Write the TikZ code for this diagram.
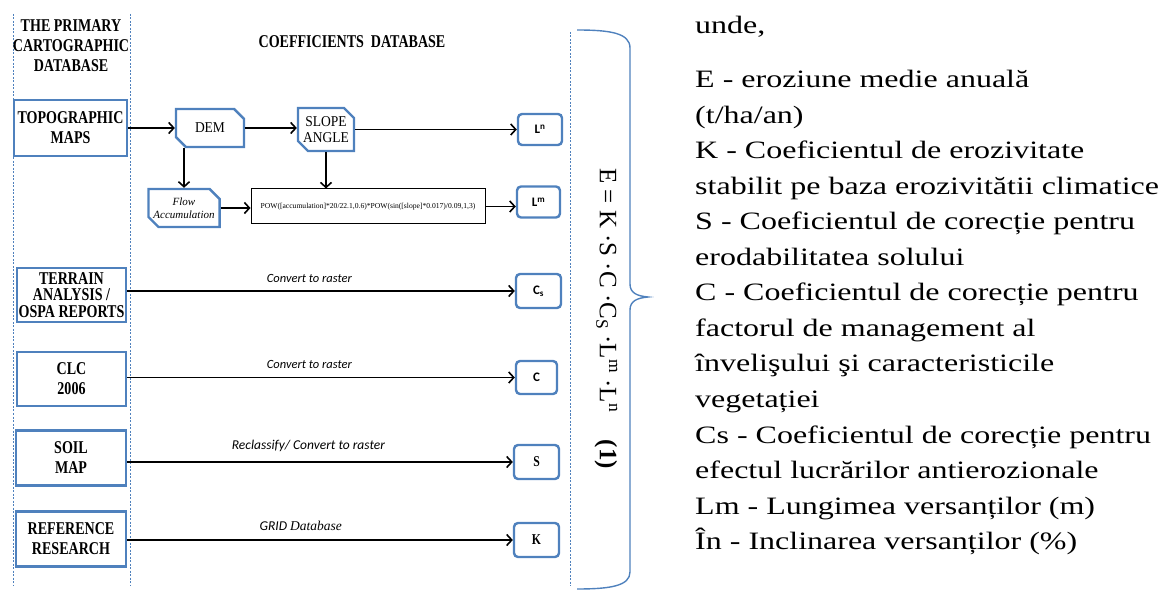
\documentclass[tikz,border=0pt]{standalone}
\usepackage{fontspec}
\setmainfont{Liberation Serif}
\newfontfamily\narrowserif[FakeStretch=0.78]{Liberation Serif}
\newfontfamily\boxserif[FakeStretch=0.9]{Liberation Serif}
\newfontfamily\wideserif[FakeStretch=1.28]{Liberation Serif}
\newfontfamily\calibri{Carlito}
\usetikzlibrary{arrows.meta,shapes.misc}
\definecolor{boxblue}{RGB}{79,129,189}

\tikzset{
  srcbox/.style={draw=boxblue, line width=2.4pt, align=center, inner sep=0pt,
    font=\narrowserif\bfseries\fontsize{18}{20}\selectfont},
  snipbox/.style={chamfered rectangle, chamfered rectangle corners={north east,south west},
    chamfered rectangle xsep=5pt, chamfered rectangle ysep=5pt,
    draw=boxblue, line width=2.4pt, align=center, inner sep=0pt},
  outbox/.style={draw=boxblue, line width=2.4pt, rounded corners=4pt, inner sep=0pt},
  flowarrow/.style={line width=1.7pt, -{Straight Barb[length=5pt,width=11pt,line width=1.6pt]}},
  dashline/.style={boxblue, line width=0.9pt, dash pattern=on 2pt off 1.5pt},
  arrowlabel/.style={font=\calibri\itshape\fontsize{12.5}{14}\selectfont, inner sep=0pt},
  heading/.style={font=\narrowserif\bfseries\fontsize{18}{20}\selectfont, align=center, inner sep=0pt},
  legend/.style={anchor=base west, inner sep=0pt, font=\wideserif\fontsize{25}{30}\selectfont},
}

\begin{document}
\begin{tikzpicture}[x=1pt,y=-1pt]
\useasboundingbox (0,0) rectangle (1162,593);

% column separators
\draw[dashline] (13,14) -- (13,586);
\draw[dashline] (130,14) -- (130,586);
\draw[dashline] (570,32) -- (570,586);

% headings
\node[heading] (hprim) at (71,46) {THE PRIMARY\\CARTOGRAPHIC\\DATABASE};
\node[heading] (hcoef) at (352,42) {COEFFICIENTS\ \ DATABASE};

% source data
\node[srcbox, minimum width=113pt, minimum height=56pt] (topo) at (70.5,128) {TOPOGRAPHIC\\MAPS};
\node[srcbox, minimum width=109pt, minimum height=54pt, font=\narrowserif\bfseries\fontsize{18}{16.5}\selectfont] (terrain) at (71.5,295) {TERRAIN\\ANALYSIS /\\OSPA REPORTS};
\node[srcbox, minimum width=109pt, minimum height=54pt] (clc) at (71.5,379) {CLC\\2006};
\node[srcbox, minimum width=110pt, minimum height=55pt] (soil) at (71,458) {SOIL\\MAP};
\node[srcbox, minimum width=110pt, minimum height=55pt] (ref) at (71,539) {REFERENCE\\RESEARCH};

% intermediate layers
\node[snipbox, minimum width=68pt, minimum height=38pt, font=\boxserif\fontsize{15}{16}\selectfont] (dem) at (210,128) {DEM};
\node[snipbox, minimum width=56pt, minimum height=43pt, font=\boxserif\fontsize{15}{16}\selectfont] (slope) at (326,129.5) {SLOPE\\ANGLE};
\node[snipbox, minimum width=66pt, minimum height=38pt, font=\itshape\fontsize{11}{13}\selectfont] (flow) at (184,208) {Flow\\Accumulation};
\node[draw=black, line width=1pt, minimum width=234pt, minimum height=35pt, inner sep=0pt,
  font=\fontsize{7.6}{9}\selectfont] (pow) at (368,206.5)
  {POW([accumulation]*20/22.1,0.6)*POW(sin([slope]*0.017)/0.09,1,3)};

% coefficient rasters
\node[outbox, minimum width=44pt, minimum height=31pt, font=\calibri\bfseries\fontsize{13}{14}\selectfont] (ln) at (540,129.5) {L\textsuperscript{n}};
\node[outbox, minimum width=43pt, minimum height=31pt, font=\calibri\bfseries\fontsize{13}{14}\selectfont] (lm) at (538.5,202) {L\textsuperscript{m}};
\node[outbox, minimum width=45pt, minimum height=34pt, font=\calibri\bfseries\fontsize{13}{14}\selectfont] (cs) at (538.5,291) {C\textsubscript{s}};
\node[outbox, minimum width=41pt, minimum height=33pt, font=\calibri\bfseries\fontsize{13}{14}\selectfont] (c) at (536.5,377.5) {C};
\node[outbox, minimum width=45pt, minimum height=34pt, font=\narrowserif\bfseries\fontsize{15}{16}\selectfont] (s) at (536.5,462) {S};
\node[outbox, minimum width=45pt, minimum height=34pt, font=\narrowserif\bfseries\fontsize{15}{16}\selectfont] (k) at (536.5,540) {K};

% processing flow
\draw[flowarrow] (topo.east) -- (topo.east -| dem.west);
\draw[flowarrow] (dem.east) -- (dem.east -| slope.west);
\draw[flowarrow] (slope.east) -- (slope.east -| ln.west);
\draw[flowarrow] (flow.north |- dem.south) -- (flow.north);
\draw[flowarrow] (slope.south) -- (slope.south |- pow.north);
\draw[flowarrow] (flow.east) -- (flow.east -| pow.west);
\draw[flowarrow] (pow.east) -- (pow.east -| lm.west);
\draw[flowarrow] (cs.west -| terrain.east) -- node[arrowlabel, pos=0.47, above=8pt] (lab1) {Convert to raster} (cs.west);
\draw[flowarrow] (c.west -| clc.east) -- node[arrowlabel, pos=0.47, above=8pt] (lab2) {Convert to raster} (c.west);
\draw[flowarrow] (s.west -| soil.east) -- node[arrowlabel, pos=0.47, above=9pt, font=\calibri\itshape\fontsize{13.5}{15}\selectfont] (lab3) {Reclassify/ Convert to raster} (s.west);
\draw[flowarrow, line width=1.3pt] (k.west -| ref.east) -- node[arrowlabel, pos=0.45, above=9pt, font=\calibri\itshape\fontsize{13.5}{15}\selectfont] (lab4) {GRID {\rmfamily Database}} (k.west);

% brace and model equation
\draw[boxblue, line width=1.4pt] (577,30) .. controls (610,30) and (630,33) .. (630,48)
  -- (630,284) .. controls (630,293) and (637,296) .. (648,297)
  .. controls (637,298) and (630,301) .. (630,310)
  -- (630,572) .. controls (630,586) and (610,589) .. (577,589);
\node[rotate=-90, anchor=west, inner sep=0pt, font=\fontsize{25}{28}\selectfont] (eq) at (606,168)
  {E = K ·S ·C ·C\textsubscript{S} ·L\textsuperscript{m} ·L\textsuperscript{n}\hspace{1.1em}\textbf{(1)}};

% legend
\node[legend] (t1) at (695,34) {unde,};
\node[legend] (t2) at (695,88) {E - eroziune medie anuală};
\node[legend] (t3) at (695,123.5) {(t/ha/an)};
\node[legend] (t4) at (695,159) {K - Coeficientul de erozivitate};
\node[legend] (t5) at (695,194.5) {stabilit pe baza erozivitătii climatice};
\node[legend] (t6) at (695,230) {S - Coeficientul de corecție pentru};
\node[legend] (t7) at (695,265.5) {erodabilitatea solului};
\node[legend] (t8) at (695,301) {C - Coeficientul de corecție pentru};
\node[legend] (t9) at (695,336.5) {factorul de management al};
\node[legend] (t10) at (695,372) {învelişului şi caracteristicile};
\node[legend] (t11) at (695,407.5) {vegetației};
\node[legend] (t12) at (695,443) {Cs - Coeficientul de corecție pentru};
\node[legend] (t13) at (695,478.5) {efectul lucrărilor antierozionale};
\node[legend] (t14) at (695,514) {Lm - Lungimea versanților (m)};
\node[legend] (t15) at (695,549) {În - Inclinarea versanților (\%)};
\end{tikzpicture}
\end{document}
